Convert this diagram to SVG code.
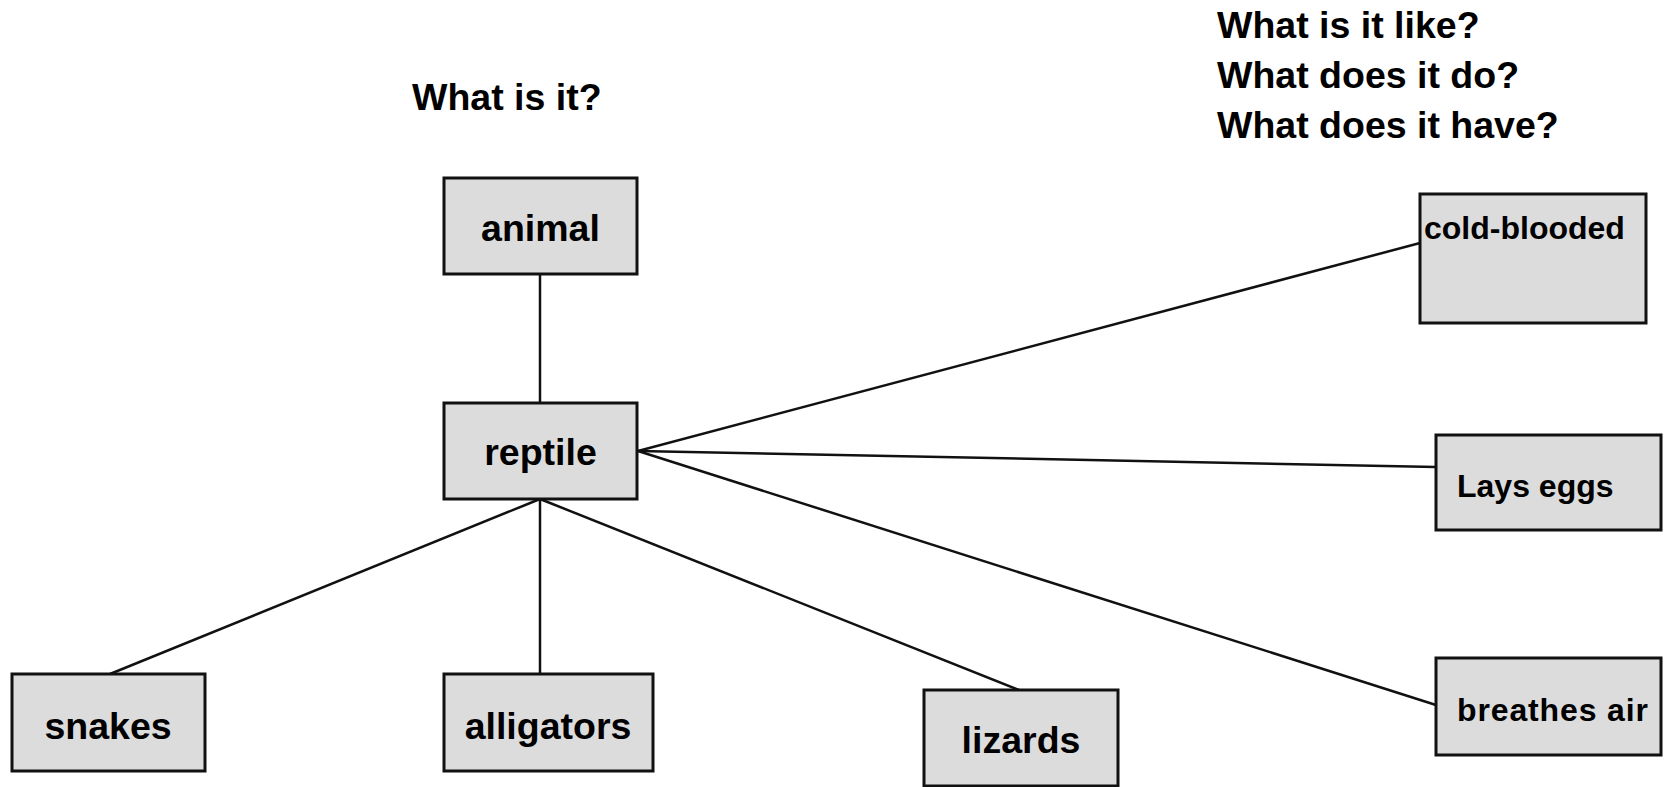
<svg xmlns="http://www.w3.org/2000/svg" width="1665" height="787" viewBox="0 0 1665 787">
  <style>
    .box { fill: #dcdcdc; stroke: #111; stroke-width: 3; }
    .lbl { font-family: "Liberation Sans", Arial, sans-serif; font-weight: bold; font-size: 37.5px; fill: #000; text-anchor: middle; }
    .lbl-sm { font-family: "Liberation Sans", Arial, sans-serif; font-weight: bold; font-size: 32px; fill: #000; }
    .head { font-family: "Liberation Sans", Arial, sans-serif; font-weight: bold; font-size: 37.5px; fill: #000; }
    .link { stroke: #111; stroke-width: 2.5; fill: none; }
  </style>
  <rect width="1665" height="787" fill="#ffffff"/>

  <!-- question headings -->
  <text class="head" x="412" y="110">What is it?</text>
  <text class="head" x="1217" y="38">What is it like?</text>
  <text class="head" x="1217" y="88">What does it do?</text>
  <text class="head" x="1217" y="138">What does it have?</text>

  <!-- connectors -->
  <g id="connectors">
    <line class="link" x1="540" y1="274" x2="540" y2="403"/>
    <line class="link" x1="540" y1="499" x2="110" y2="674"/>
    <line class="link" x1="540" y1="499" x2="540" y2="674"/>
    <line class="link" x1="540" y1="499" x2="1019" y2="690"/>
    <line class="link" x1="638" y1="451" x2="1420" y2="243"/>
    <line class="link" x1="638" y1="451" x2="1436" y2="467"/>
    <line class="link" x1="638" y1="451" x2="1436" y2="705"/>
  </g>

  <g id="animal">
    <rect class="box" x="444" y="178" width="193" height="96"/>
    <text class="lbl" x="540.5" y="241">animal</text>
  </g>
  <g id="reptile">
    <rect class="box" x="444" y="403" width="193" height="96"/>
    <text class="lbl" x="540.5" y="465">reptile</text>
  </g>
  <g id="snakes">
    <rect class="box" x="12" y="674" width="193" height="97"/>
    <text class="lbl" x="108" y="739">snakes</text>
  </g>
  <g id="alligators">
    <rect class="box" x="444" y="674" width="209" height="97"/>
    <text class="lbl" x="548" y="739">alligators</text>
  </g>
  <g id="lizards">
    <rect class="box" x="924" y="690" width="194" height="96"/>
    <text class="lbl" x="1021" y="753">lizards</text>
  </g>
  <g id="cold-blooded">
    <rect class="box" x="1420" y="194" width="226" height="129"/>
    <text class="lbl-sm" x="1424" y="239">cold-blooded</text>
  </g>
  <g id="lays-eggs">
    <rect class="box" x="1436" y="435" width="225" height="95"/>
    <text class="lbl-sm" x="1457" y="497">Lays eggs</text>
  </g>
  <g id="breathes-air">
    <rect class="box" x="1436" y="658" width="225" height="97"/>
    <text class="lbl-sm" x="1457" y="721" textLength="191" lengthAdjust="spacing">breathes air</text>
  </g>
</svg>
